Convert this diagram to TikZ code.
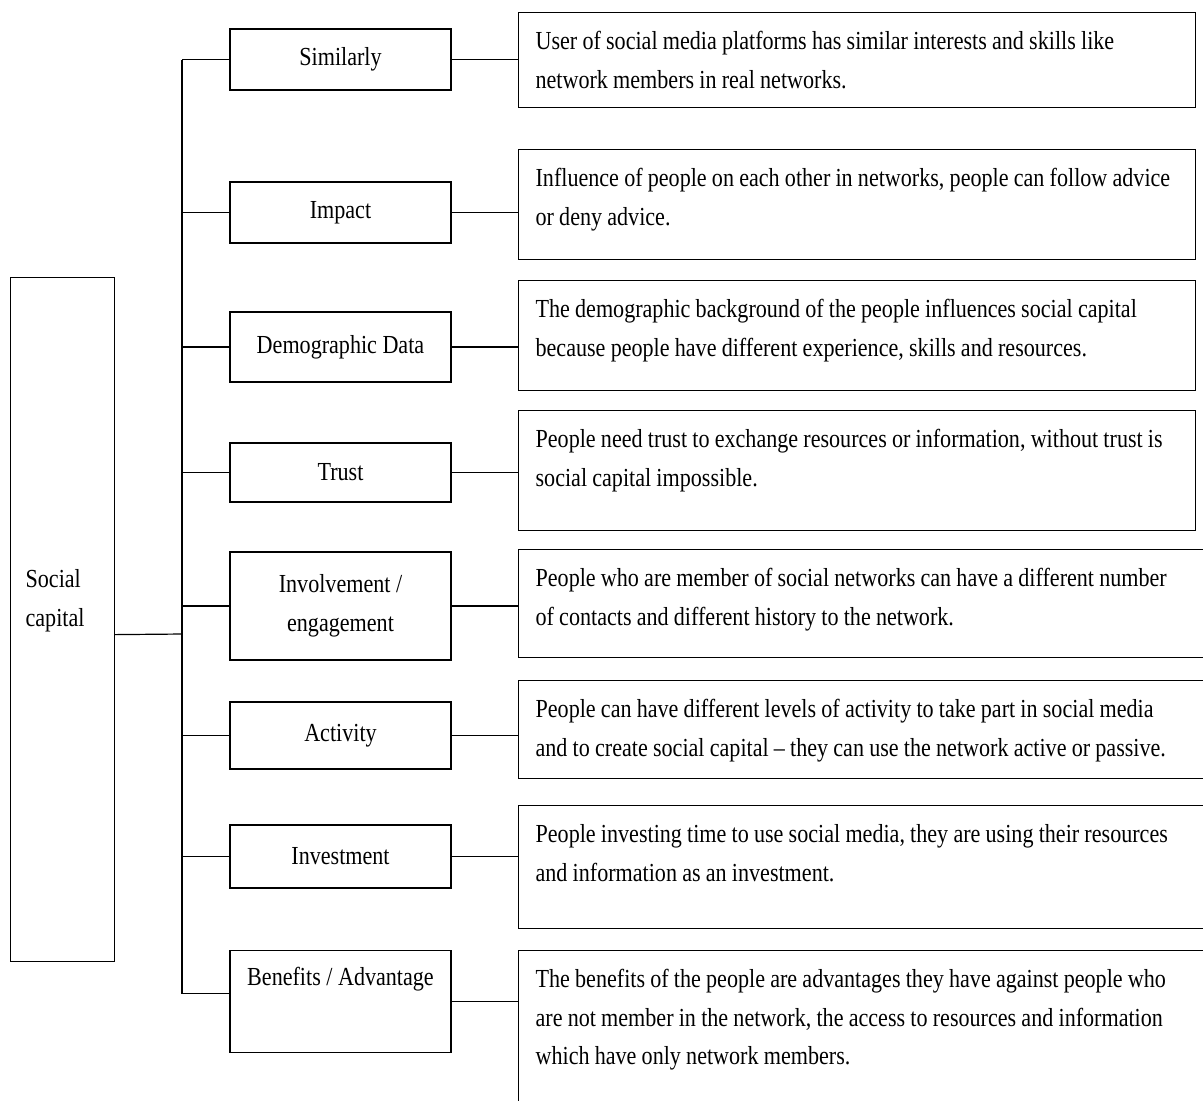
\documentclass[tikz,border=0pt]{standalone}
\usepackage{fontspec}
\setmainfont[FakeStretch=0.85]{Liberation Serif}
\usepackage{tikz}

\tikzset{
    box/.style={draw, line width=0.6pt, font=\fontsize{13}{19.3}\selectfont},
    itembox/.style={box, minimum width=110.5pt, align=center, inner sep=0pt},
    descbox/.style={box, anchor=north west, align=left, inner sep=0pt,
                    text height=18.5pt, text width=#1,
                    execute at begin node={\leftskip=8.5pt\rightskip=0pt plus 1fil
                        \spaceskip=2.6pt plus 0.3pt minus 0.3pt\hyphenpenalty=10000}},
    descbox/.default=338.5pt,
    link/.style={line width=0.6pt}
}

\begin{document}
\begin{tikzpicture}[x=0.5pt, y=-0.5pt]
    \useasboundingbox (0,0) rectangle (1203,1100);
    \clip (0,0) rectangle (1203,1100);

    % Root box
    \node[box, anchor=north west, align=left, inner xsep=7.5pt, inner ysep=0pt, text width=37pt,
          text height=155pt, text depth=187pt] (sc) at (10,277) {Social\\capital};
    \coordinate (trunk) at (182,634);

    % Factors
    \node[itembox, minimum height=30.5pt] (sim) at (340.5,59.5) {Similarly};
    \node[itembox, minimum height=30.5pt] (imp) at (340.5,212.5) {Impact};
    \node[itembox, minimum height=35pt] (demo) at (340.5,347) {Demographic Data};
    \node[itembox, minimum height=29.5pt] (trust) at (340.5,472.5) {Trust};
    \node[itembox, minimum height=54pt] (inv) at (340.5,606) {Involvement /\\engagement};
    \node[itembox, minimum height=33.5pt] (act) at (340.5,735.5) {Activity};
    \node[itembox, minimum height=31.5pt] (invest) at (340.5,856.5) {Investment};
    \node[itembox, anchor=north, text height=17.5pt, text depth=33.5pt] (ben) at (340.5,950) {Benefits / Advantage};

    % Descriptions
    \node[descbox, text depth=29pt] (simd) at (518,12)
        {User of social media platforms has similar interests and skills like\\network members in real networks.};
    \node[descbox, text depth=36.5pt] (impd) at (518,149)
        {Influence of people on each other in networks, people can follow advice\\or deny advice.};
    \node[descbox, text depth=36.5pt] (demod) at (518,280)
        {The demographic background of the people influences social capital\\because people have different experience, skills and resources.};
    \node[descbox, text depth=41.5pt] (trustd) at (518,410)
        {People need trust to exchange resources or information, without trust is\\social capital impossible.};
    \node[descbox=346pt, text depth=35.5pt] (invd) at (518,549)
        {People who are member of social networks can have a different number\\of contacts and different history to the network.};
    \node[descbox=346pt, text depth=30.5pt] (actd) at (518,680)
        {People can have different levels of activity to take part in social media\\and to create social capital -- they can use the network active or passive.};
    \node[descbox=346pt, text depth=43pt] (investd) at (518,805)
        {People investing time to use social media, they are using their resources\\and information as an investment.};
    \node[descbox=346pt, text depth=61.5pt] (bend) at (518,950)
        {The benefits of the people are advantages they have against people who\\are not member in the network, the access to resources and information\\which have only network members.};

    % Connectors
    \draw[link] ([yshift=-7.5pt]sc.east) -- (trunk);
    \draw[link] (sim.west -| trunk) -- ([yshift=4pt]ben.west -| trunk);
    \foreach \n in {sim,imp,demo,trust,inv,act,invest} {
        \draw[link] (\n.west) -- (\n.west -| trunk);
    }
    \draw[link] ([yshift=4pt]ben.west) -- ([yshift=4pt]ben.west -| trunk);
    \foreach \a/\b in {sim/simd, imp/impd, demo/demod, trust/trustd, inv/invd, act/actd, invest/investd, ben/bend} {
        \draw[link] (\a.east) -- (\a.east -| \b.west);
    }
\end{tikzpicture}
\end{document}
